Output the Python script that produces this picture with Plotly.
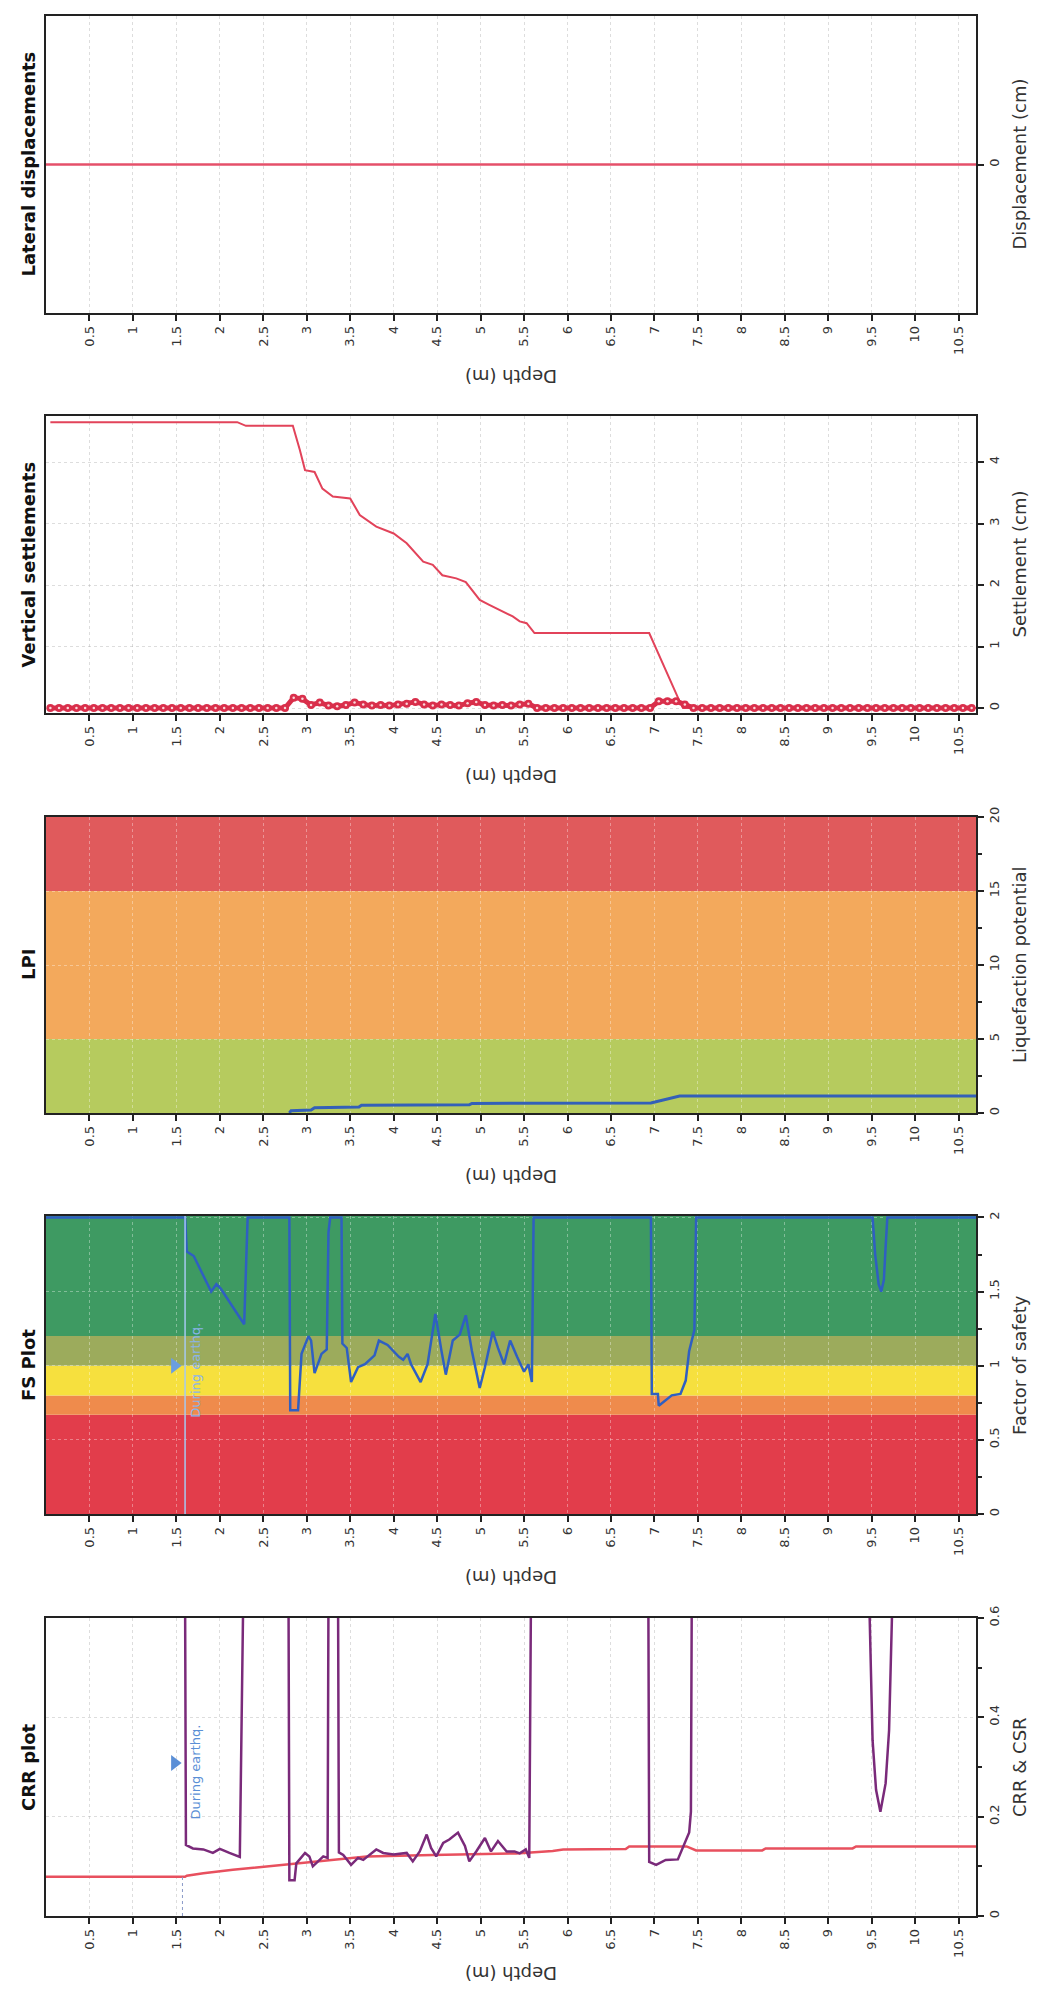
import plotly.graph_objects as go

# page body has an 8px margin: size the figure so the page fits the window exactly
OFF = 8
W, H = 1040 - 2 * OFF, 1996 - 2 * OFF

# ---------------- data ----------------
depth_ticks = [0.5, 1, 1.5, 2, 2.5, 3, 3.5, 4, 4.5, 5, 5.5, 6, 6.5, 7, 7.5, 8, 8.5, 9, 9.5, 10, 10.5]
depth_ticktext = ["0.5", "1", "1.5", "2", "2.5", "3", "3.5", "4", "4.5", "5", "5.5", "6", "6.5",
                  "7", "7.5", "8", "8.5", "9", "9.5", "10", "10.5"]

# Lateral displacements
lat_depth = [0.0, 10.7]
lat_disp = [0.0, 0.0]

# Vertical settlements (cumulative)
set_depth = [0.05, 2.2, 2.3, 2.84, 2.92, 2.98, 3.09, 3.18, 3.3, 3.5, 3.61, 3.8, 4.0, 4.15, 4.34,
             4.45, 4.56, 4.72, 4.83, 4.99, 5.1, 5.22, 5.37, 5.45, 5.53, 5.62, 6.94, 7.29, 7.33, 10.7]
set_val = [4.65, 4.65, 4.59, 4.59, 4.2, 3.87, 3.84, 3.57, 3.44, 3.41, 3.14, 2.95, 2.84, 2.68, 2.38,
           2.33, 2.16, 2.11, 2.05, 1.76, 1.68, 1.6, 1.49, 1.41, 1.38, 1.22, 1.22, 0.11, 0.0, 0.0]

# Vertical settlements (per layer, markers)
layer_depth = [round(0.05 + 0.1 * i, 2) for i in range(107)]
layer_val = ([0.0] * 28 +
             [0.17, 0.15, 0.05, 0.09, 0.04, 0.03, 0.05, 0.09, 0.06, 0.04, 0.05, 0.04, 0.06, 0.07,
              0.10, 0.06, 0.04, 0.06, 0.05, 0.04, 0.08, 0.10, 0.05, 0.04, 0.05, 0.04, 0.06, 0.07] +
             [0.0] * 14 +
             [0.11, 0.11, 0.11, 0.06] +
             [0.0] * 33)

# LPI
lpi_depth = [2.8, 2.82, 3.05, 3.09, 3.6, 3.63, 4.87, 4.9, 6.96, 7.05, 7.15, 7.29, 10.7]
lpi_val = [0.0, 0.16, 0.2, 0.36, 0.4, 0.52, 0.55, 0.65, 0.68, 0.8, 0.95, 1.15, 1.15]
lpi_bands = [(0, 5, "#b6cb5e"), (5, 15, "#f3a95c"), (15, 20, "#e05a5c")]

# FS
fs_depth = [0.0, 1.60, 1.62, 1.70, 1.90, 1.96, 2.01, 2.28, 2.32, 2.80, 2.81, 2.90, 2.94, 3.02,
            3.05, 3.09, 3.17, 3.23, 3.25, 3.27, 3.40, 3.41, 3.46, 3.51, 3.59, 3.67, 3.78, 3.83,
            3.93, 4.0, 4.06, 4.11, 4.16, 4.2, 4.31, 4.39, 4.48, 4.55, 4.6, 4.68, 4.76, 4.83,
            4.9, 4.99, 5.05, 5.14, 5.2, 5.27, 5.34, 5.42, 5.5, 5.55, 5.59, 5.61, 6.96, 6.97,
            7.04, 7.05, 7.13, 7.2, 7.30, 7.36, 7.40, 7.46, 7.48, 9.51, 9.54, 9.58, 9.61, 9.64,
            9.66, 9.68, 10.7]
fs_val = [2.0, 2.0, 1.77, 1.74, 1.50, 1.55, 1.52, 1.28, 2.0, 2.0, 0.70, 0.70, 1.08, 1.20,
          1.17, 0.95, 1.08, 1.11, 1.9, 2.0, 2.0, 1.15, 1.12, 0.89, 0.99, 1.01, 1.07, 1.17,
          1.14, 1.10, 1.06, 1.04, 1.08, 1.01, 0.89, 1.01, 1.35, 1.10, 0.94, 1.17, 1.21, 1.34,
          1.10, 0.85, 0.99, 1.23, 1.12, 1.01, 1.17, 1.06, 0.96, 1.01, 0.89, 2.0, 2.0, 0.81,
          0.81, 0.73, 0.77, 0.80, 0.81, 0.90, 1.10, 1.24, 2.0, 2.0, 1.75, 1.55, 1.50, 1.58,
          1.80, 2.0, 2.0]
fs_bands = [(0, 0.67, "#e23d4b"), (0.67, 0.8, "#ef8b4c"), (0.8, 1.0, "#f6e03e"),
            (1.0, 1.2, "#9cab5c"), (1.2, 2.01, "#3e9a62")]

# CRR & CSR
csr_depth = [0.0, 1.6, 1.62, 1.81, 2.15, 2.54, 2.77, 3.3, 3.69, 4.45, 5.41, 5.83, 5.95, 6.67,
             6.71, 7.37, 7.48, 8.24, 8.28, 9.28, 9.32, 10.7]
csr_val = [0.079, 0.079, 0.081, 0.086, 0.093, 0.100, 0.104, 0.113, 0.120, 0.123, 0.126, 0.131,
           0.134, 0.135, 0.140, 0.140, 0.132, 0.132, 0.136, 0.136, 0.140, 0.140]
crr_depth = [1.60, 1.61, 1.69, 1.81, 1.92, 2.0, 2.11, 2.23, 2.27, 2.79, 2.80, 2.86, 2.88, 2.98,
             3.03, 3.07, 3.13, 3.19, 3.24, 3.25, 3.36, 3.37, 3.42, 3.51, 3.59, 3.65, 3.8, 3.88,
             4.0, 4.15, 4.22, 4.3, 4.38, 4.43, 4.49, 4.57, 4.64, 4.74, 4.82, 4.87, 4.95, 5.05,
             5.12, 5.2, 5.3, 5.39, 5.45, 5.52, 5.56, 5.58, 6.93, 6.94, 7.02, 7.13, 7.27, 7.33,
             7.4, 7.42, 7.43, 9.47, 9.51, 9.55, 9.6, 9.66, 9.7, 9.74]
crr_val = [0.65, 0.143, 0.136, 0.134, 0.127, 0.135, 0.127, 0.119, 0.65, 0.65, 0.072, 0.072,
           0.106, 0.127, 0.120, 0.100, 0.110, 0.120, 0.117, 0.65, 0.65, 0.128, 0.123, 0.103,
           0.117, 0.113, 0.134, 0.127, 0.124, 0.127, 0.110, 0.130, 0.164, 0.137, 0.120, 0.147,
           0.154, 0.168, 0.141, 0.110, 0.130, 0.157, 0.130, 0.151, 0.130, 0.130, 0.126, 0.134,
           0.117, 0.65, 0.65, 0.109, 0.103, 0.113, 0.114, 0.139, 0.168, 0.210, 0.65, 0.65,
           0.354, 0.254, 0.210, 0.267, 0.374, 0.65]

water_depth = 1.6

# ---------------- layout helpers (pixel positions in the 1040x1996 window) ----------------
PL, PR = 46, 976
panels = [(16, 313), (416, 713), (817, 1113), (1216, 1514), (1618, 1916)]
depth_title_gap = [64, 64, 64, 64, 58]
titles = ["Lateral displacements", "Vertical settlements", "LPI", "FS Plot", "CRR plot"]
vtitles = ["Displacement (cm)", "Settlement (cm)", "Liquefaction potential", "Factor of safety",
           "CRR & CSR"]
yranges = [[-1, 1], [-0.08, 4.75], [0, 20], [0, 2.01], [0, 0.6]]
yticks = [[0], [0, 1, 2, 3, 4], [0, 5, 10, 15, 20], [0, 0.5, 1, 1.5, 2], [0, 0.2, 0.4, 0.6]]
yticktext = [["0"], ["0", "1", "2", "3", "4"], ["0", "5", "10", "15", "20"],
             ["0", "0.5", "1", "1.5", "2"], ["0", "0.2", "0.4", "0.6"]]
yminor = [[], [], [2.5, 7.5, 12.5, 17.5], [0.25, 0.75, 1.25, 1.75], [0.1, 0.3, 0.5]]
colored = [False, False, True, True, False]

FONT = "DejaVu Sans"
fig = go.Figure()


def px_x(p):
    return (p - OFF) / W


def px_y(p):
    return 1 - (p - OFF) / H


layout = dict(width=W, height=H, margin=dict(l=0, r=0, t=0, b=0), template="none",
              paper_bgcolor="white", plot_bgcolor="white", showlegend=False,
              font=dict(family=FONT, color="#333"))
annotations = []
shapes = []

for i, (top, bot) in enumerate(panels):
    n = i + 1
    xa = "xaxis" if n == 1 else f"xaxis{n}"
    ya = "yaxis" if n == 1 else f"yaxis{n}"
    gridc = "rgba(255,255,255,0.35)" if colored[i] else "rgba(170,170,170,0.4)"
    layout[xa] = dict(domain=[px_x(PL), px_x(PR)], anchor=f"y{n}", range=[0, 10.7],
                      tickvals=depth_ticks, ticktext=depth_ticktext, tickangle=-90,
                      ticks="outside", ticklen=6, tickwidth=1.5, tickcolor="#222",
                      showline=True, mirror=True, linecolor="#222", linewidth=1.5,
                      showgrid=True, gridcolor=gridc, griddash="dot", gridwidth=1,
                      zeroline=False, automargin=False,
                      tickfont=dict(size=13, family=FONT, color="#333"))
    layout[ya] = dict(domain=[px_y(bot), px_y(top)], anchor=f"x{n}", side="right",
                      range=yranges[i], tickvals=yticks[i], ticktext=yticktext[i],
                      tickangle=-90, ticks="outside", ticklen=6, tickwidth=1.5,
                      tickcolor="#222", showline=True, mirror=True, linecolor="#222",
                      linewidth=1.5, showgrid=True, gridcolor=gridc, griddash="dot",
                      zeroline=False, automargin=False,
                      tickfont=dict(size=13, family=FONT, color="#333"),
                      minor=dict(tickvals=yminor[i], ticks="outside", ticklen=4,
                                 tickcolor="#222", showgrid=False))
    mid = (top + bot) / 2
    annotations.append(dict(text=f"<b>{titles[i]}</b>", x=px_x(28), y=px_y(mid), xref="paper",
                            yref="paper", textangle=-90, showarrow=False, xanchor="center",
                            yanchor="middle", font=dict(size=18, family=FONT, color="#111")))
    annotations.append(dict(text=vtitles[i], x=px_x(1019), y=px_y(mid), xref="paper",
                            yref="paper", textangle=-90, showarrow=False, xanchor="center",
                            yanchor="middle", font=dict(size=18, family=FONT, color="#333")))
    annotations.append(dict(text="Depth (m)", x=px_x((PL + PR) / 2),
                            y=px_y(bot + depth_title_gap[i]),
                            xref="paper", yref="paper", textangle=180, showarrow=False,
                            xanchor="center", yanchor="middle",
                            font=dict(size=18, family=FONT, color="#333")))

# colour bands
for lo, hi, c in lpi_bands:
    shapes.append(dict(type="rect", xref="x3 domain", yref="y3", x0=0, x1=1, y0=lo, y1=hi,
                       fillcolor=c, line=dict(width=0), layer="below"))
for lo, hi, c in fs_bands:
    shapes.append(dict(type="rect", xref="x4 domain", yref="y4", x0=0, x1=1, y0=lo, y1=hi,
                       fillcolor=c, line=dict(width=0), layer="below"))

# water table lines
shapes.append(dict(type="line", xref="x4", yref="y4 domain", x0=water_depth, x1=water_depth,
                   y0=0, y1=1, line=dict(color="#a6c9f0", width=1.5)))
shapes.append(dict(type="line", xref="x5", yref="y5", x0=water_depth - 0.03,
                   x1=water_depth - 0.03, y0=0, y1=csr_val[0],
                   line=dict(color="#8a9ac8", width=1, dash="dot")))

# traces
fig.add_trace(go.Scatter(x=lat_depth, y=lat_disp, mode="lines", xaxis="x", yaxis="y",
                         line=dict(color="#e5506a", width=2.5)))
fig.add_trace(go.Scatter(x=set_depth, y=set_val, mode="lines", xaxis="x2", yaxis="y2",
                         line=dict(color="#e2435a", width=2)))
fig.add_trace(go.Scatter(x=layer_depth, y=layer_val, mode="lines+markers", xaxis="x2",
                         yaxis="y2", line=dict(color="#d92f4b", width=5),
                         marker=dict(size=8, color="#d92f4b")))
fig.add_trace(go.Scatter(x=layer_depth, y=layer_val, mode="markers", xaxis="x2",
                         yaxis="y2", marker=dict(size=2.5, color="rgba(255,235,235,0.9)")))
fig.add_trace(go.Scatter(x=lpi_depth, y=lpi_val, mode="lines", xaxis="x3", yaxis="y3",
                         line=dict(color="#3360b8", width=3)))
fig.add_trace(go.Scatter(x=fs_depth, y=fs_val, mode="lines", xaxis="x4", yaxis="y4",
                         line=dict(color="#2f5fc2", width=2.5)))
fig.add_trace(go.Scatter(x=csr_depth, y=csr_val, mode="lines", xaxis="x5", yaxis="y5",
                         line=dict(color="#e8505e", width=2.5)))
fig.add_trace(go.Scatter(x=crr_depth, y=crr_val, mode="lines", xaxis="x5", yaxis="y5",
                         line=dict(color="#7a2a7a", width=2.5)))

# "During earthq." markers
fig.add_trace(go.Scatter(x=[1.48], y=[1.0], mode="markers", xaxis="x4", yaxis="y4",
                         marker=dict(symbol="triangle-right", size=14, color="#6b9ee0")))
fig.add_trace(go.Scatter(x=[1.48], y=[0.308], mode="markers", xaxis="x5", yaxis="y5",
                         marker=dict(symbol="triangle-right", size=14, color="#5b8fd6")))
annotations.append(dict(text="During earthq.", x=1.72, y=0.97, xref="x4", yref="y4",
                        textangle=-90, showarrow=False, xanchor="center", yanchor="middle",
                        font=dict(size=13, family=FONT, color="#8ab4ea")))
annotations.append(dict(text="During earthq.", x=1.72, y=0.29, xref="x5", yref="y5",
                        textangle=-90, showarrow=False, xanchor="center", yanchor="middle",
                        font=dict(size=13, family=FONT, color="#5b8fd6")))

layout["annotations"] = annotations
layout["shapes"] = shapes
fig.update_layout(**layout)
fig.write_html("out.html")
